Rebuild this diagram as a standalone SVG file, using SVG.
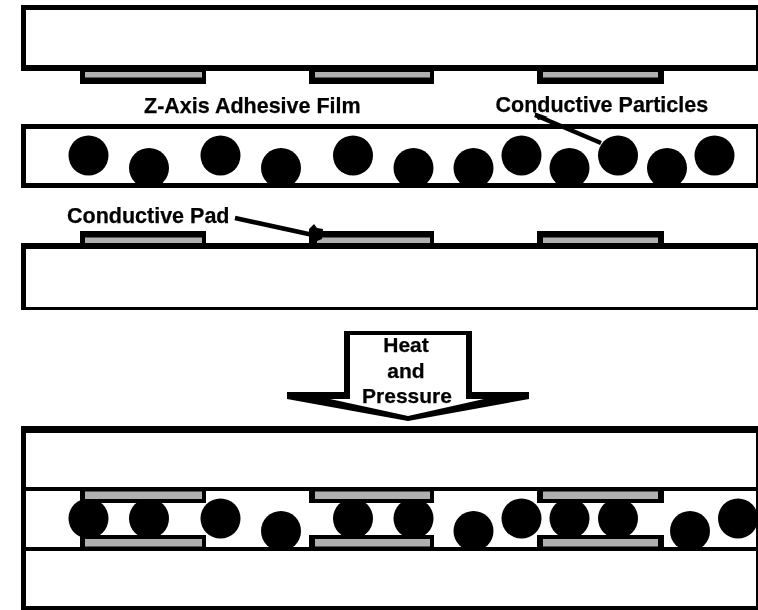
<svg xmlns="http://www.w3.org/2000/svg" width="758" height="610" viewBox="0 0 758 610">
<style>
.k{fill:#000}
.w{fill:#fff}
.g{fill:#b0b0b0}
text{font-family:"Liberation Sans",Arial,sans-serif;font-weight:700;font-size:21.5px;fill:#000;stroke:#000;stroke-width:.25;filter:url(#soft)}
.m{text-anchor:middle;font-size:21px}
.c{fill:none;stroke:#000;stroke-width:4.5}
</style>
<defs>
<filter id="soft" x="-5%" y="-20%" width="110%" height="140%"><feGaussianBlur stdDeviation="0.55"/></filter>
<circle id="p" r="20" fill="#000"/>
</defs>
<rect width="758" height="610" fill="#fff"/>

<g id="top-substrate">
<rect class="k" x="21" y="5" width="737" height="66"/><rect class="w" x="26" y="10" width="730" height="55"/>
<rect class="k" x="80" y="70" width="126" height="14"/><rect class="g" x="85" y="72" width="117" height="5.5"/>
<rect class="k" x="309" y="70" width="125" height="14"/><rect class="g" x="315" y="72" width="115" height="5.5"/>
<rect class="k" x="537" y="70" width="127" height="14"/><rect class="g" x="543" y="72" width="115" height="5.5"/>
</g>

<g id="adhesive-film">
<rect class="k" x="21" y="124" width="737" height="64"/><rect class="w" x="26" y="129" width="730" height="54"/>
<use href="#p" x="88.5" y="155.5"/><use href="#p" x="149" y="168"/><use href="#p" x="220.5" y="155.5"/><use href="#p" x="281" y="168"/><use href="#p" x="353" y="155.5"/><use href="#p" x="413.5" y="168"/><use href="#p" x="473.5" y="168"/><use href="#p" x="521.5" y="155.5"/><use href="#p" x="569.5" y="168"/><use href="#p" x="618" y="155.5"/><use href="#p" x="667" y="168"/><use href="#p" x="714.5" y="155.5"/>
</g>

<g id="bottom-substrate">
<rect class="k" x="21" y="243" width="737" height="67"/><rect class="w" x="26" y="249" width="730" height="58"/>
<rect class="k" x="80" y="231" width="126" height="14"/><rect class="g" x="85" y="237.5" width="117" height="5.5"/>
<rect class="k" x="309" y="231" width="125" height="14"/><rect class="g" x="317" y="237.5" width="113" height="5.5"/>
<rect class="k" x="537" y="231" width="127" height="14"/><rect class="g" x="543" y="237.5" width="115" height="5.5"/>
</g>

<g id="label-film"><text x="144" y="112.5">Z-Axis Adhesive Film</text></g>
<g id="label-particles"><text x="495.5" y="112">Conductive Particles</text></g>
<g id="label-pad"><text x="67" y="223">Conductive Pad</text></g>

<g id="connectors">
<line class="c" x1="235" y1="218" x2="313" y2="235"/>
<path class="k" d="M309 229L314 224L317 228L323 229L322 239L317 241V245H309Z"/>
<line class="c" x1="535" y1="115" x2="601" y2="143"/>
<path class="k" d="M534 112L548 117L538 120Z"/>
</g>

<g id="heat-arrow">
<path class="k" d="M287 392H344V331H472V392H529V399L408 421L287 399Z"/>
<path class="w" d="M350 335H466V399H484L408 416L330 399H350Z"/>
<text class="m" x="406" y="352">Heat</text>
<text class="m" x="406" y="378">and</text>
<text class="m" x="407" y="403">Pressure</text>
</g>

<g id="assembly">
<rect class="k" x="21" y="426" width="737" height="184"/>
<rect class="w" x="26" y="433" width="730" height="54"/>
<rect class="w" x="26" y="491" width="730" height="56"/>
<rect class="w" x="26" y="551" width="730" height="55"/>
<use href="#p" x="88.5" y="518.5"/><use href="#p" x="149" y="518.5"/><use href="#p" x="220.5" y="518.5"/><use href="#p" x="281" y="531"/><use href="#p" x="353" y="518.5"/><use href="#p" x="413.5" y="518.5"/><use href="#p" x="473.5" y="531"/><use href="#p" x="521.5" y="518.5"/><use href="#p" x="569.5" y="518.5"/><use href="#p" x="618" y="518.5"/><use href="#p" x="690" y="531"/><use href="#p" x="738" y="518.5"/>
<rect class="k" x="80" y="489" width="126" height="14"/><rect class="g" x="85" y="491.5" width="117" height="7.5"/>
<rect class="k" x="309" y="489" width="125" height="14"/><rect class="g" x="315" y="491.5" width="115" height="7.5"/>
<rect class="k" x="537" y="489" width="127" height="14"/><rect class="g" x="543" y="491.5" width="115" height="7.5"/>
<rect class="k" x="80" y="535" width="126" height="14"/><rect class="g" x="85" y="539" width="117" height="7.5"/>
<rect class="k" x="309" y="535" width="125" height="14"/><rect class="g" x="315" y="539" width="115" height="7.5"/>
<rect class="k" x="537" y="535" width="127" height="14"/><rect class="g" x="543" y="539" width="115" height="7.5"/>
</g>
</svg>
